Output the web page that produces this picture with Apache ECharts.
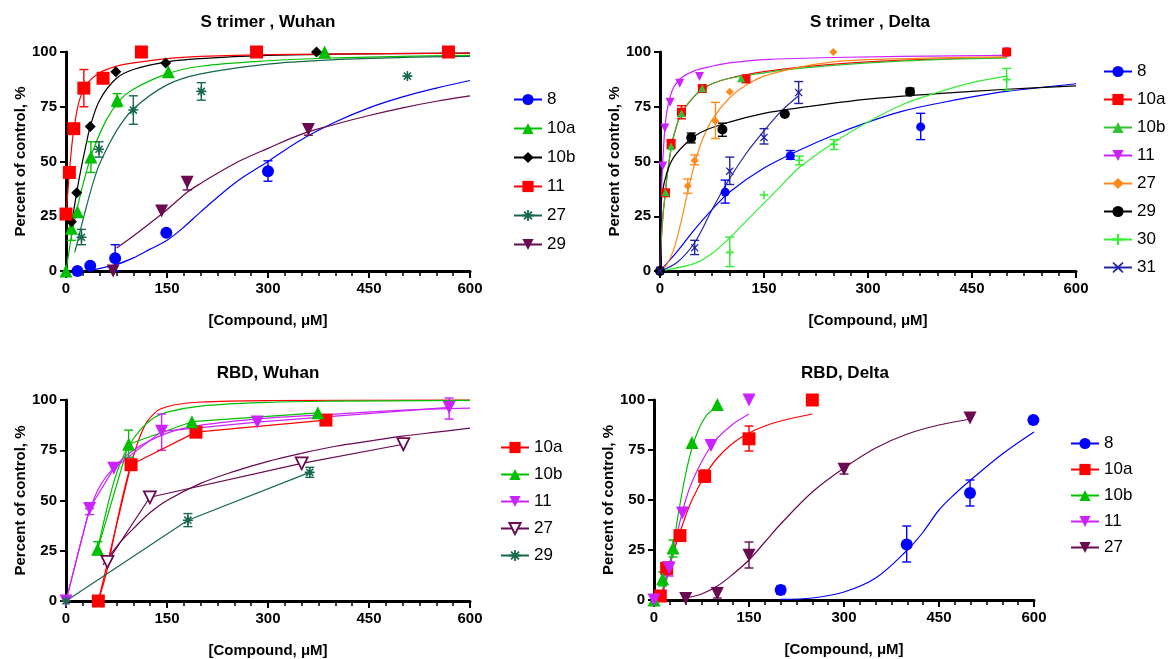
<!DOCTYPE html>
<html>
<head>
<meta charset="utf-8">
<script src="https://cdn.jsdelivr.net/npm/echarts@6/dist/echarts.min.js"></script>
<style>
  html, body { margin: 0; padding: 0; background: #fff; }
  #chart { width: 1169px; height: 659px; }
</style>
</head>
<body>
<div id="chart"></div>
<script>
// ---- data: [x, y] points, [x, low, high] error bars, fitted curve ----
var xTicks = [0, 150, 300, 450, 600];
var yTicks = [0, 25, 50, 75, 100];

// S trimer, Wuhan
var s1_8_pts = [[17, 0], [36, 2.4], [73, 5.8], [149, 17.5], [300, 45.6]];
var s1_8_err = [[73, 0, 12], [300, 41, 50.3]];
var s1_8_fit = [[40, 0.5], [75, 3], [100, 6], [125, 10], [150, 14], [175, 20], [200, 27], [250, 40], [300, 50], [350, 60], [400, 68], [450, 74.5], [500, 79.5], [550, 83.5], [600, 87]];
var s1_10a_pts = [[0, 0], [8, 19.5], [17, 27], [37, 52], [76, 78], [152, 91], [384, 100]];
var s1_10a_err = [[8, 14, 25], [37, 45, 59], [76, 75, 81]];
var s1_10a_fit = [[0, 0], [5, 10], [10, 19], [20, 33], [30, 45], [40, 55], [60, 69], [80, 78], [100, 83], [150, 90], [200, 93.5], [300, 96], [400, 97.3], [500, 98], [600, 98.5]];
var s1_10b_pts = [[8, 22.5], [16, 35.7], [36, 66], [74, 91], [148, 95], [372, 100]];
var s1_10b_fit = [[7, 20], [10, 25], [16, 36], [20, 43], [30, 58], [36, 66], [50, 78], [75, 88], [100, 92], [150, 95.5], [200, 97], [300, 98.5], [400, 99], [600, 99.5]];
var s1_11_pts = [[0, 26], [5, 45], [11.6, 65], [26.5, 83.5], [55, 88], [112, 100], [283, 100], [568, 100]];
var s1_11_err = [[26.5, 75, 92]];
var s1_11_fit = [[0, 25], [5, 45], [10, 61], [15, 71], [20, 78], [30, 85], [50, 90.5], [75, 93.5], [100, 95], [150, 97], [200, 98], [300, 98.8], [600, 99.5]];
var s1_27_pts = [[23, 15.4], [49, 55.6], [100, 73.5], [201, 82], [507, 89]];
var s1_27_err = [[23, 12, 19], [49, 52, 59], [100, 67, 80], [201, 78, 86]];
var s1_27_fit = [[13, 8.5], [20, 17], [30, 29], [40, 40], [50, 49], [75, 64], [100, 74], [150, 85], [200, 90], [300, 94.5], [400, 96.5], [500, 97.5], [600, 98]];
var s1_29_pts = [[70, 0], [142, 27.4], [180, 40.5], [360, 64.6]];
var s1_29_err = [[180, 37, 43], [360, 62, 66]];
var s1_29_fit = [[75, 10.5], [100, 16], [150, 28], [180, 36], [200, 40], [250, 49], [300, 56], [350, 62.5], [400, 67], [450, 71], [500, 74.5], [550, 77.5], [600, 80]];

// S trimer, Delta
var s2_8_pts = [[0, 0], [94, 36], [188, 52.6], [376, 65.8], [500, 100]];
var s2_8_err = [[94, 31, 41.5], [188, 51, 55], [376, 60, 72]];
var s2_8_fit = [[0, 0], [25, 9], [50, 19], [75, 28], [100, 36], [150, 47], [200, 55], [250, 62], [300, 68], [350, 73], [400, 76.5], [450, 79.5], [500, 82], [600, 85.5]];
var s2_10a_pts = [[8, 35.7], [16, 58], [31, 72.5], [61, 83.3], [124, 87.7], [500, 100]];
var s2_10a_err = [[16, 56, 60], [31, 69.5, 75.5]];
var s2_10a_fit = [[0, 0], [2, 15], [5, 28], [8, 36], [10, 43], [16, 56], [20, 62], [31, 72], [50, 80], [61, 83], [75, 85.5], [100, 88], [150, 91], [200, 93], [300, 95.5], [400, 96.8], [500, 97.5]];
var s2_10b_pts = [[8, 36], [16, 57], [31, 72], [61, 83.5], [117, 88]];
var s2_10b_fit = [[0, 0], [2, 15], [5, 28], [8, 36], [10, 43], [16, 56], [20, 62], [31, 72], [50, 80], [61, 83], [75, 85.5], [100, 88], [150, 90.5], [200, 92.5], [300, 95], [400, 96.5], [500, 97.3]];
var s2_11_pts = [[0, 0], [4, 48], [7, 65.3], [14.5, 77], [28.5, 85.7], [57, 88.8]];
var s2_11_fit = [[0, 0], [2, 35], [4, 50], [7, 65], [10, 73], [15, 80], [20, 84], [30, 88], [50, 91.5], [75, 93.5], [100, 95], [150, 96.5], [250, 97.5], [500, 98.5]];
var s2_27_pts = [[40, 38.8], [50, 50.5], [80, 68.5], [100.6, 81.8], [250, 100]];
var s2_27_err = [[40, 35.5, 42], [50, 48.5, 53], [80, 60.5, 77]];
var s2_27_fit = [[0, 0], [10, 3], [20, 10], [30, 22], [40, 36], [50, 49], [60, 59], [75, 69], [100, 79], [125, 85], [150, 89], [200, 93], [250, 95.5], [300, 96.5], [400, 97.3], [500, 97.8]];
var s2_29_pts = [[0, 0], [45, 60.8], [90, 64.6], [180, 71.7], [360.6, 81.8]];
var s2_29_err = [[45, 58.5, 63], [90, 61.5, 67.5], [360.6, 80.5, 83.5]];
var s2_29_fit = [[0, 0], [1, 25], [3, 35], [10, 45], [20, 52], [40, 59], [60, 63.5], [100, 68], [150, 72], [200, 74.5], [300, 78.5], [400, 81], [500, 83], [600, 84.5]];
var s2_30_pts = [[100.6, 8.5], [150, 34.7], [201, 50.6], [251, 57.8], [500, 87.4]];
var s2_30_err = [[100.6, 2, 15.5], [201, 48.5, 52.5], [251, 55.5, 60], [500, 82.5, 92.5]];
var s2_30_fit = [[0, 0], [50, 3.5], [75, 8], [100, 15], [125, 23], [150, 31], [175, 39], [200, 47], [250, 58.5], [300, 68], [350, 76], [400, 81.5], [450, 86], [500, 89]];
var s2_31_pts = [[0, 0], [50, 10.6], [100.6, 45.6], [150, 61], [200, 81.5]];
var s2_31_err = [[50, 7.5, 14], [100.6, 39.5, 52], [150, 58, 65], [200, 76.5, 86.5]];
var s2_31_fit = [[0, 0], [25, 4], [50, 13], [75, 28], [100, 42], [125, 54], [150, 64], [175, 73], [200, 80]];

// RBD, Wuhan
var r1_10a_pts = [[48, 0], [96.6, 67.8], [193, 84], [386, 90]];
var r1_10a_fit = [[48, 0], [60, 14], [70, 30], [80, 46], [90, 60], [100, 72], [110, 82], [120, 89], [130, 93], [140, 95.5], [160, 97.5], [200, 99], [300, 99.7], [600, 100]];
var r1_10b_pts = [[47, 25.7], [93, 78], [187, 89.2], [374, 93.6]];
var r1_10b_err = [[47, 23, 29.5], [93, 71.5, 85]];
var r1_10b_fit = [[47, 26], [60, 45], [70, 58], [80, 68], [93, 77], [110, 85], [130, 91], [150, 94], [200, 97], [300, 98.8], [400, 99.4], [600, 99.8]];
var r1_11_pts = [[0, 0], [35, 46], [71, 66], [142, 84.4], [284, 89], [569, 96.3]];
var r1_11_err = [[35, 43, 46], [142, 75, 93], [569, 90.5, 101]];
var r1_11_fit = [[0, 0], [15, 20], [25, 33], [35, 45], [50, 57], [70, 66], [100, 75], [150, 83.5], [200, 87.5], [300, 91], [400, 93], [500, 95], [600, 96]];
var r1_27_pts = [[61.5, 19.5], [124.6, 51.6], [350, 68.5], [501, 78]];
var r1_27_fit = [[55, 18], [80, 29], [100, 36], [125, 44], [150, 50], [200, 58.5], [250, 64.5], [300, 69.5], [350, 73.5], [400, 77], [450, 79.5], [500, 82], [550, 84], [600, 86]];
var r1_29_pts = [[0, 0], [181, 40.2], [362, 64]];
var r1_29_err = [[181, 37, 43.5], [362, 61.5, 66.5]];

// RBD, Delta
var r2_8_pts = [[200, 5], [399, 27.7], [499, 53.5], [599, 90]];
var r2_8_err = [[200, 3, 7], [399, 19, 37], [499, 47, 60]];
var r2_8_fit = [[200, 0.3], [250, 1], [300, 4], [350, 11], [400, 25], [425, 34], [450, 45], [475, 53], [500, 60], [550, 73], [600, 84]];
var r2_10a_pts = [[10, 2], [20, 15.8], [41, 32.2], [80, 61.8], [150, 80.6], [250, 100]];
var r2_10a_err = [[20, 12.5, 19], [80, 59, 65], [150, 74.5, 87]];
var r2_10a_fit = [[10, 0], [20, 12], [30, 23], [40, 33], [50, 42], [60, 50], [80, 62], [100, 71], [125, 78.5], [150, 83.5], [175, 87], [200, 89.5], [250, 93]];
var r2_10b_pts = [[0, 0], [13.6, 10.6], [30, 26], [60, 78.8], [100, 97.8]];
var r2_10b_err = [[13.6, 7, 14], [30, 21.5, 30]];
var r2_10b_fit = [[10, 2], [20, 12], [30, 27], [40, 46], [50, 63], [60, 76], [70, 85], [80, 91], [90, 94.5], [100, 96]];
var r2_11_pts = [[0, 0], [24, 16], [45, 43.5], [90, 77.2], [150, 100]];
var r2_11_err = [[24, 12, 19]];
var r2_11_fit = [[10, 0], [20, 10], [30, 24], [40, 38], [50, 50], [60, 59], [75, 69], [90, 77], [100, 81], [125, 88], [150, 93]];
var r2_27_pts = [[50, 0.7], [100, 3.3], [150, 22.4], [300, 65.4], [499, 91]];
var r2_27_err = [[100, 1, 6], [150, 16, 29], [300, 63, 68]];
var r2_27_fit = [[50, 1], [75, 3], [100, 7], [125, 13], [150, 20], [175, 29], [200, 38], [250, 54], [300, 66], [350, 76], [400, 83], [450, 87.5], [500, 90.5]];

// ---- styles ----
var FONT = 'Liberation Sans, Arial, sans-serif';
var BLUE = '#0000ff', GREEN = '#00c000', RED = '#ff0000', BLACK = '#000000';
var DKGREEN = '#17694a', PURPLE = '#6a0a50', MAGENTA = '#cc22ff', ORANGE = '#ff8a1c';
var LIME = '#33ee33', NAVY = '#2424a8';
var DOWN = 'path://M-5,-4L5,-4L0,5Z';
var STAR = 'path://M-0.8,-5L0.8,-5L0.8,5L-0.8,5Z M-5,-0.8L5,-0.8L5,0.8L-5,0.8Z M-3,-4.1L4.1,3L3,4.1L-4.1,-3Z M3,-4.1L4.1,-3L-3,4.1L-4.1,3Z';
var PLUS = 'path://M-1,-5L1,-5L1,-1L5,-1L5,1L1,1L1,5L-1,5L-1,1L-5,1L-5,-1L-1,-1Z';
var XMARK = 'path://M-4,-5L0,-1.3L4,-5L5,-4L1.3,0L5,4L4,5L0,1.3L-4,5L-5,4L-1.3,0L-5,-4Z';

var panels = [
  { title: 'S trimer , Wuhan', grid: [66, 52, 404, 219], titleX: 268, titleY: 14, legend: [513, 91, 12],
    items: [
      { name: '8', color: BLUE, symbol: 'circle', size: 12, pts: s1_8_pts, err: s1_8_err, fit: s1_8_fit },
      { name: '10a', color: GREEN, symbol: 'triangle', size: 13, pts: s1_10a_pts, err: s1_10a_err, fit: s1_10a_fit },
      { name: '10b', color: BLACK, symbol: 'diamond', size: 11, pts: s1_10b_pts, fit: s1_10b_fit },
      { name: '11', color: RED, symbol: 'rect', size: 13, pts: s1_11_pts, err: s1_11_err, fit: s1_11_fit },
      { name: '27', color: DKGREEN, symbol: STAR, size: 10, pts: s1_27_pts, err: s1_27_err, fit: s1_27_fit },
      { name: '29', color: PURPLE, symbol: DOWN, size: 13, pts: s1_29_pts, err: s1_29_err, fit: s1_29_fit }
    ] },
  { title: 'S trimer , Delta', grid: [660, 52, 416, 219], titleX: 870, titleY: 14, legend: [1103, 63, 11],
    items: [
      { name: '8', color: BLUE, symbol: 'circle', size: 9, pts: s2_8_pts, err: s2_8_err, fit: s2_8_fit },
      { name: '10a', color: RED, symbol: 'rect', size: 9, pts: s2_10a_pts, err: s2_10a_err, fit: s2_10a_fit },
      { name: '10b', color: '#33c033', symbol: 'triangle', size: 8, pts: s2_10b_pts, fit: s2_10b_fit },
      { name: '11', color: MAGENTA, symbol: DOWN, size: 9, pts: s2_11_pts, fit: s2_11_fit },
      { name: '27', color: ORANGE, symbol: 'diamond', size: 8, pts: s2_27_pts, err: s2_27_err, fit: s2_27_fit },
      { name: '29', color: BLACK, symbol: 'circle', size: 10, pts: s2_29_pts, err: s2_29_err, fit: s2_29_fit },
      { name: '30', color: LIME, symbol: PLUS, size: 8, pts: s2_30_pts, err: s2_30_err, fit: s2_30_fit },
      { name: '31', color: NAVY, symbol: XMARK, size: 8, pts: s2_31_pts, err: s2_31_err, fit: s2_31_fit }
    ] },
  { title: 'RBD, Wuhan', grid: [66, 400, 404, 208], titleX: 268, titleY: 365, legend: [500, 439, 10], connect: true,
    items: [
      { name: '10a', color: RED, symbol: 'rect', size: 13, pts: r1_10a_pts, fit: r1_10a_fit },
      { name: '10b', color: GREEN, symbol: 'triangle', size: 13, pts: r1_10b_pts, err: r1_10b_err, fit: r1_10b_fit },
      { name: '11', color: MAGENTA, symbol: DOWN, size: 13, pts: r1_11_pts, err: r1_11_err, fit: r1_11_fit },
      { name: '27', color: PURPLE, symbol: DOWN, size: 12, hollow: true, pts: r1_27_pts, fit: r1_27_fit },
      { name: '29', color: DKGREEN, symbol: STAR, size: 10, pts: r1_29_pts, err: r1_29_err }
    ] },
  { title: 'RBD, Delta', grid: [654, 400, 380, 200], titleX: 845, titleY: 365, legend: [1070, 435, 9],
    items: [
      { name: '8', color: BLUE, symbol: 'circle', size: 12, pts: r2_8_pts, err: r2_8_err, fit: r2_8_fit },
      { name: '10a', color: RED, symbol: 'rect', size: 13, pts: r2_10a_pts, err: r2_10a_err, fit: r2_10a_fit },
      { name: '10b', color: GREEN, symbol: 'triangle', size: 13, pts: r2_10b_pts, err: r2_10b_err, fit: r2_10b_fit },
      { name: '11', color: MAGENTA, symbol: DOWN, size: 13, pts: r2_11_pts, err: r2_11_err, fit: r2_11_fit },
      { name: '27', color: PURPLE, symbol: DOWN, size: 13, pts: r2_27_pts, err: r2_27_err, fit: r2_27_fit }
    ] }
];

function errRender(color) {
  return function (params, api) {
    var x = api.value(0);
    var lo = api.coord([x, api.value(1)]);
    var hi = api.coord([x, api.value(2)]);
    var w = 4.5;
    var st = { stroke: color, lineWidth: 1.4 };
    return {
      type: 'group',
      children: [
        { type: 'line', shape: { x1: lo[0], y1: lo[1], x2: hi[0], y2: hi[1] }, style: st },
        { type: 'line', shape: { x1: lo[0] - w, y1: lo[1], x2: lo[0] + w, y2: lo[1] }, style: st },
        { type: 'line', shape: { x1: hi[0] - w, y1: hi[1], x2: hi[0] + w, y2: hi[1] }, style: st }
      ]
    };
  };
}

var option = {
  backgroundColor: '#fff',
  animation: false,
  textStyle: { fontFamily: FONT },
  title: [], grid: [], xAxis: [], yAxis: [], legend: [], series: []
};

panels.forEach(function (p, gi) {
  option.title.push({
    text: p.title, left: p.titleX, top: p.titleY, textAlign: 'center', padding: 0,
    textStyle: { fontFamily: FONT, fontWeight: 'bold', fontSize: 17, color: '#000' }
  });
  option.grid.push({ left: p.grid[0], top: p.grid[1], width: p.grid[2], height: p.grid[3] });
  option.xAxis.push({
    type: 'value', gridIndex: gi, min: xTicks[0], max: xTicks[xTicks.length - 1], interval: xTicks[1] - xTicks[0],
    name: '[Compound, μM]', nameLocation: 'middle', nameGap: 42,
    nameTextStyle: { fontFamily: FONT, fontWeight: 'bold', fontSize: 15, color: '#000' },
    axisLine: { show: true, onZero: false, lineStyle: { color: '#000', width: 3 } },
    axisTick: { show: true, length: 7, lineStyle: { color: '#000', width: 2 } },
    minorTick: { show: true, splitNumber: 6, length: 5, lineStyle: { color: '#000', width: 1.5 } },
    axisLabel: { fontFamily: FONT, fontWeight: 'bold', fontSize: 15, color: '#000', margin: 10 },
    splitLine: { show: false }
  });
  option.yAxis.push({
    type: 'value', gridIndex: gi, min: yTicks[0], max: yTicks[yTicks.length - 1], interval: yTicks[1] - yTicks[0],
    name: 'Percent of control, %', nameLocation: 'middle', nameGap: 38,
    nameTextStyle: { fontFamily: FONT, fontWeight: 'bold', fontSize: 15, color: '#000' },
    axisLine: { show: true, onZero: false, lineStyle: { color: '#000', width: 3 } },
    axisTick: { show: true, length: 6, lineStyle: { color: '#000', width: 2 } },
    axisLabel: { fontFamily: FONT, fontWeight: 'bold', fontSize: 15, color: '#000', margin: 9 },
    splitLine: { show: false }
  });

  // series names carry the panel index so each legend finds its own series
  var key = function (name) { return gi + '|' + name; };
  option.legend.push({
    data: p.items.map(function (it) { return key(it.name); }),
    formatter: function (n) { return n.split('|')[1]; },
    orient: 'vertical', left: p.legend[0], top: p.legend[1], itemGap: p.legend[2], padding: 0,
    itemWidth: 28, itemHeight: 14, selectedMode: false,
    textStyle: { fontFamily: FONT, fontSize: 17, color: '#000', lineHeight: 14 }
  });

  p.items.forEach(function (it) {
    var itemStyle = it.hollow
      ? { color: '#fff', borderColor: it.color, borderWidth: 1.8, opacity: 1 }
      : { color: it.color, opacity: 1 };
    if (p.connect) {
      // points joined by straight segments
      option.series.push({
        type: 'line', name: key(it.name), xAxisIndex: gi, yAxisIndex: gi, data: it.pts,
        symbol: it.symbol, symbolSize: it.size, showSymbol: true, clip: false,
        itemStyle: itemStyle, lineStyle: { color: it.color, width: 1.2 }, z: 4
      });
      if (it.fit) {
        option.series.push({
          type: 'line', name: key(it.name), xAxisIndex: gi, yAxisIndex: gi, data: it.fit, smooth: 0.35,
          showSymbol: false, symbol: 'none', clip: false,
          lineStyle: { color: it.color, width: 1.2 }, z: 2
        });
      }
    } else {
      option.series.push({
        type: 'line', name: key(it.name), xAxisIndex: gi, yAxisIndex: gi, data: it.fit, smooth: 0.35,
        symbol: it.symbol, symbolSize: it.size, showSymbol: false, clip: false,
        itemStyle: itemStyle, lineStyle: { color: it.color, width: 1.2 }, z: 2
      });
      option.series.push({
        type: 'scatter', name: key(it.name), xAxisIndex: gi, yAxisIndex: gi, data: it.pts,
        symbol: it.symbol, symbolSize: it.size, clip: false, itemStyle: itemStyle, z: 4
      });
    }
    if (it.err) {
      option.series.push({
        type: 'custom', name: key(it.name), xAxisIndex: gi, yAxisIndex: gi, data: it.err,
        encode: { x: 0, y: [1, 2] }, renderItem: errRender(it.color), clip: false, z: 3
      });
    }
  });
});

var chart = echarts.init(document.getElementById('chart'), null, { renderer: 'canvas' });
chart.setOption(option);
</script>
</body>
</html>
